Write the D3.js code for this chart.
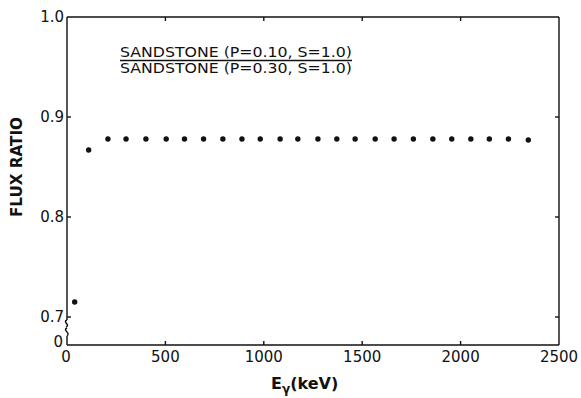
<!DOCTYPE html>
<html>
<head>
<meta charset="utf-8">
<script src="https://cdn.jsdelivr.net/npm/d3@7"></script>
<style>
  html, body { margin: 0; padding: 0; background: #fff; }
  svg { display: block; }
  text { font-family: "DejaVu Sans", "Liberation Sans", sans-serif; fill: #111; }
</style>
</head>
<body>
<svg id="chart" width="581" height="398"></svg>
<script>
// ---- data ----
const energies = [39, 110, 208, 300, 401, 504, 597, 694, 792, 889, 982, 1083, 1173,
                  1275, 1371, 1464, 1566, 1662, 1760, 1859, 1955, 2052, 2146, 2243, 2344];
const fluxRatio = [0.715, 0.867, 0.878, 0.878, 0.878, 0.878, 0.878, 0.878, 0.878, 0.878,
                   0.878, 0.878, 0.878, 0.878, 0.878, 0.878, 0.878, 0.878, 0.878, 0.878,
                   0.878, 0.878, 0.878, 0.878, 0.877];
const xTicks = [0, 500, 1000, 1500, 2000, 2500];
const xTickLabels = ["0", "500", "1000", "1500", "2000", "2500"];
const yTicks = [0.7, 0.8, 0.9, 1.0];
const yTickLabels = ["0.7", "0.8", "0.9", "1.0"];
const legendLines = ["SANDSTONE  (P=0.10, S=1.0)", "SANDSTONE  (P=0.30, S=1.0)"];

// ---- layout ----
const L = 67, R = 559, T = 17, B = 345, breakY = 317;
const svg = d3.select("#chart");
svg.append("rect").attr("width", 581).attr("height", 398).attr("fill", "#fff");

const x = d3.scaleLinear().domain([0, 2500]).range([L, R]);
const y = d3.scaleLinear().domain([0.7, 1.0]).range([breakY, T]);

const ink = "#111";
const g = svg.append("g").attr("stroke", ink).attr("stroke-width", 1.4).attr("fill", "none");

// frame: top, right, bottom
g.append("line").attr("x1", L).attr("x2", R).attr("y1", T).attr("y2", T);
g.append("line").attr("x1", R).attr("x2", R).attr("y1", T).attr("y2", B);
g.append("line").attr("x1", L).attr("x2", R).attr("y1", B).attr("y2", B);
// left axis with break
g.append("line").attr("x1", L).attr("x2", L).attr("y1", T).attr("y2", breakY + 3);
g.append("line").attr("x1", L).attr("x2", L).attr("y1", B - 9).attr("y2", B);
// break squiggles
g.append("path").attr("d", `M${L},${breakY+3} C${L-5},${breakY+5} ${L+4},${breakY+8} ${L-1},${breakY+10}`);
g.append("path").attr("d", `M${L},${B-17} C${L-5},${B-15} ${L+4},${B-12} ${L},${B-9}`);

// ticks (inward)
const tk = 4;
xTicks.slice(1, -1).forEach(v => {
  g.append("line").attr("x1", x(v)).attr("x2", x(v)).attr("y1", B).attr("y2", B - tk);
  g.append("line").attr("x1", x(v)).attr("x2", x(v)).attr("y1", T).attr("y2", T + tk);
});
yTicks.slice(0, -1).forEach(v => {
  g.append("line").attr("x1", L).attr("x2", L + tk).attr("y1", y(v)).attr("y2", y(v));
  g.append("line").attr("x1", R).attr("x2", R - tk).attr("y1", y(v)).attr("y2", y(v));
});

// tick labels
const xl = svg.append("g").attr("font-size", 15).attr("text-anchor", "middle");
xTicks.forEach((v, i) => {
  xl.append("text").attr("x", x(v) + (i === 0 ? -1 : 0)).attr("y", B + 17).text(xTickLabels[i]);
});
const yl = svg.append("g").attr("font-size", 15).attr("text-anchor", "end");
yTicks.forEach((v, i) => {
  yl.append("text").attr("x", L - 3).attr("y", y(v) + 5).text(yTickLabels[i]);
});
yl.append("text").attr("x", L - 4).attr("y", B + 2).text("0");

// axis titles
svg.append("text")
  .attr("transform", `translate(22,167) rotate(-90)`)
  .attr("text-anchor", "middle").attr("font-size", 16).attr("font-weight", "bold")
  .attr("textLength", 100).attr("lengthAdjust", "spacingAndGlyphs")
  .text("FLUX RATIO");

const xt = svg.append("text").attr("x", 271).attr("y", 389).attr("font-size", 16).attr("font-weight", "bold");
xt.append("tspan").text("E");
xt.append("tspan").attr("dy", 4).attr("font-size", 12).text("γ");
xt.append("tspan").attr("dy", -4).text("(keV)");

// legend fraction
const lg = svg.append("g").attr("font-size", 14);
lg.append("text").attr("x", 120).attr("y", 57)
  .attr("textLength", 232).attr("lengthAdjust", "spacingAndGlyphs").text(legendLines[0]);
lg.append("line").attr("x1", 120).attr("x2", 352).attr("y1", 60.5).attr("y2", 60.5)
  .attr("stroke", ink).attr("stroke-width", 1.3);
lg.append("text").attr("x", 120).attr("y", 73)
  .attr("textLength", 232).attr("lengthAdjust", "spacingAndGlyphs").text(legendLines[1]);

// points
svg.append("g").selectAll("circle")
  .data(energies.map((e, i) => ({ e, v: fluxRatio[i] })))
  .join("circle")
  .attr("cx", d => x(d.e)).attr("cy", d => y(d.v))
  .attr("r", 2.7).attr("fill", ink);
</script>
</body>
</html>
